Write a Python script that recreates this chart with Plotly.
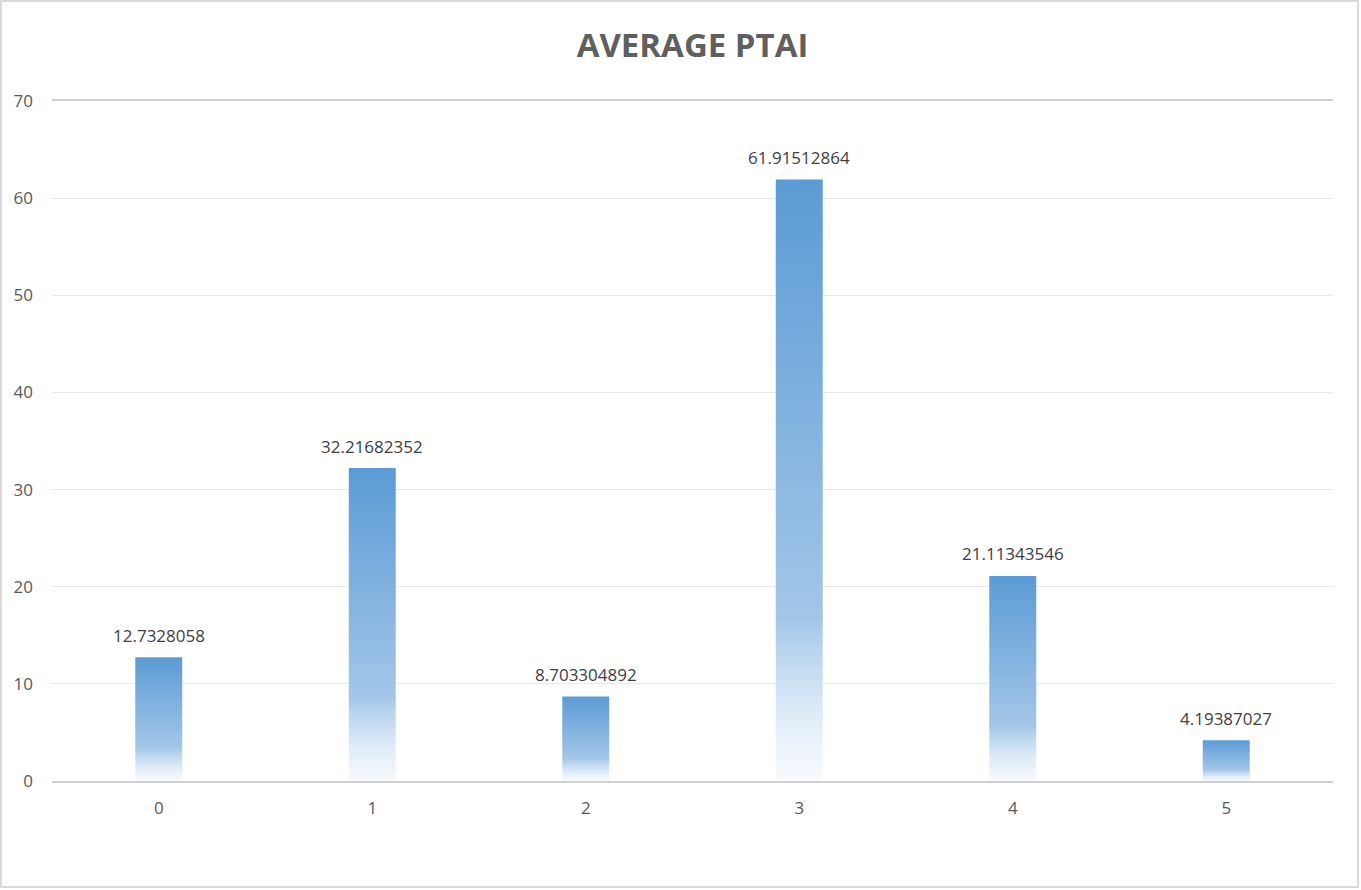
import plotly.graph_objects as go

# values
categories = [0, 1, 2, 3, 4, 5]
avg_ptai = [12.7328058, 32.21682352, 8.703304892, 61.91512864, 21.11343546, 4.19387027]
label_text = ["12.7328058", "32.21682352", "8.703304892", "61.91512864", "21.11343546", "4.19387027"]
y_ticks = [0, 10, 20, 30, 40, 50, 60, 70]

BAR_HALF = 0.11
# excel style light gradient: white at the base, blue at the top
GRADIENT = [[0.0, "#f7fafe"], [0.1, "#e2edf8"], [0.22, "#b8d4ee"],
            [0.27, "#a3c6e8"], [1.0, "#5b9bd5"]]

fig = go.Figure()

for cat, val in zip(categories, avg_ptai):
    fig.add_trace(go.Scatter(
        x=[cat - BAR_HALF, cat + BAR_HALF, cat + BAR_HALF, cat - BAR_HALF, cat - BAR_HALF],
        y=[0, 0, val, val, 0],
        mode="lines",
        line=dict(width=0, color="rgba(0,0,0,0)"),
        fill="toself",
        fillgradient=dict(type="vertical", colorscale=GRADIENT),
        hoverinfo="skip",
        showlegend=False,
    ))

# data labels above each bar
for cat, val, txt in zip(categories, avg_ptai, label_text):
    fig.add_annotation(x=cat, y=val, text=txt, showarrow=False, yshift=22,
                       font=dict(size=17, color="#404040", family="Open Sans"))

W, H = 1361, 890
ml, mr, mt, mb = 52, 28, 101, 109
pw, ph = W - ml - mr, H - mt - mb

# light border around the whole chart
fig.add_shape(type="rect", xref="paper", yref="paper",
              x0=-(ml - 1) / pw, x1=1 + (mr - 3) / pw,
              y0=-(mb - 3) / ph, y1=1 + (mt - 1) / ph,
              line=dict(color="#d9d9d9", width=2), layer="below")

fig.update_layout(
    width=W, height=H,
    margin=dict(l=ml, r=mr, t=mt, b=mb),
    paper_bgcolor="white", plot_bgcolor="white",
    title=dict(text="<b>AVERAGE PTAI</b>", x=0.5, xref="paper", xanchor="center",
               y=1 - 45 / H, yanchor="middle",
               font=dict(size=33, color="#5f5f5f", family="Open Sans")),
    font=dict(family="Open Sans", color="#595959"),
    xaxis=dict(range=[-0.5, 5.5], tickvals=categories, ticktext=[str(c) for c in categories],
               showgrid=False, zeroline=False, showline=True, linecolor="#d0d0d0",
               linewidth=1.5, mirror=True, ticks="", ticklabelstandoff=11,
               tickfont=dict(size=17, color="#595959")),
    yaxis=dict(range=[0, 70], tickvals=y_ticks, showgrid=True, gridcolor="#e8e8e8",
               gridwidth=1, zeroline=False, showline=False, ticks="",
               ticklabelstandoff=18, tickfont=dict(size=17, color="#595959")),
)

# drop the page's default body margin so the chart sits at the window corner
fig.write_html("out.html", config={"displayModeBar": False},
               post_script="document.body.style.margin='0';")
